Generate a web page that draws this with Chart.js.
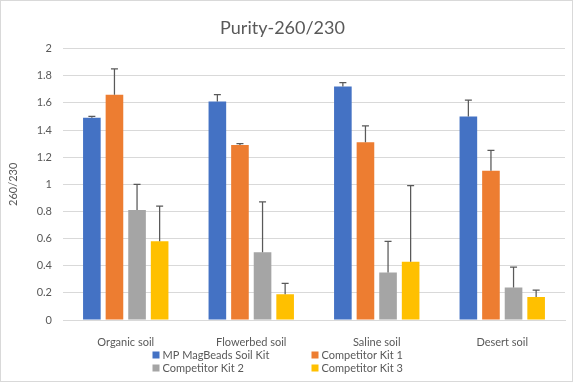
<!DOCTYPE html>
<html>
<head>
<meta charset="utf-8">
<script src="https://cdn.jsdelivr.net/npm/chart.js@4"></script>
<style>
  html, body { margin: 0; padding: 0; background: #fff; }
  #wrap { position: relative; width: 573px; height: 382px; }
</style>
</head>
<body>
<div id="wrap"><canvas id="purity-chart" width="573" height="382"></canvas></div>
<script>
// data
const categories = ['Organic soil', 'Flowerbed soil', 'Saline soil', 'Desert soil'];
const seriesNames = ['MP MagBeads Soil Kit', 'Competitor Kit 1', 'Competitor Kit 2', 'Competitor Kit 3'];
const mpMagBeads = [1.49, 1.61, 1.72, 1.50];
const competitor1 = [1.66, 1.29, 1.31, 1.10];
const competitor2 = [0.81, 0.50, 0.35, 0.24];
const competitor3 = [0.58, 0.19, 0.43, 0.17];
const mpMagBeadsErr = [0.01, 0.05, 0.03, 0.12];
const competitor1Err = [0.19, 0.01, 0.12, 0.15];
const competitor2Err = [0.19, 0.37, 0.23, 0.15];
const competitor3Err = [0.26, 0.08, 0.56, 0.05];
const yTicks = [0, 0.2, 0.4, 0.6, 0.8, 1, 1.2, 1.4, 1.6, 1.8, 2];

const colors = ['#4472C4', '#ED7D31', '#A5A5A5', '#FFC000'];
const values = [mpMagBeads, competitor1, competitor2, competitor3];
const errors = [mpMagBeadsErr, competitor1Err, competitor2Err, competitor3Err];
const textColor = '#595959';
const fontFamily = 'Lato, "Open Sans", sans-serif';

// positive error bars with caps
const errorBars = {
	id: 'errorBars',
	afterDatasetsDraw(chart) {
		const ctx = chart.ctx;
		const y = chart.scales.y;
		ctx.save();
		ctx.strokeStyle = '#595959';
		ctx.lineWidth = 1.25;
		chart.data.datasets.forEach((ds, i) => {
			chart.getDatasetMeta(i).data.forEach((bar, j) => {
				const top = y.getPixelForValue(ds.data[j] + errors[i][j]);
				ctx.beginPath();
				ctx.moveTo(bar.x, bar.y);
				ctx.lineTo(bar.x, top);
				ctx.moveTo(bar.x - 3.5, top);
				ctx.lineTo(bar.x + 3.5, top);
				ctx.stroke();
			});
		});
		ctx.restore();
	}
};

// two-column legend under the axis plus the outer frame
const gridLegend = {
	id: 'gridLegend',
	afterDraw(chart) {
		const ctx = chart.ctx;
		const mid = chart.width / 2;
		const cols = [mid - 134, mid + 25];
		const rows = [355, 368];
		ctx.save();
		ctx.font = '11px ' + fontFamily;
		ctx.textBaseline = 'middle';
		ctx.textAlign = 'left';
		seriesNames.forEach((name, i) => {
			const x = cols[i % 2], yy = rows[Math.floor(i / 2)];
			ctx.fillStyle = colors[i];
			ctx.fillRect(x, yy - 3.5, 7, 7);
			ctx.fillStyle = textColor;
			ctx.fillText(name, x + 10, yy);
		});
		ctx.strokeStyle = '#d9d9d9';
		ctx.lineWidth = 1;
		ctx.strokeRect(0.5, 0.5, chart.width - 1, chart.height - 1);
		ctx.restore();
	}
};

const ctx = document.getElementById('purity-chart');
new Chart(ctx, {
	type: 'bar',
	data: {
		labels: categories,
		datasets: seriesNames.map((name, i) => ({
			label: name,
			data: values[i],
			backgroundColor: colors[i],
			categoryPercentage: 0.72,
			barPercentage: 0.78
		}))
	},
	options: {
		responsive: false,
		animation: false,
		layout: { padding: { left: 0, right: 8, top: 0, bottom: 32 } },
		plugins: {
			legend: { display: false },
			tooltip: { enabled: false },
			title: {
				display: true,
				text: 'Purity-260/230',
				color: textColor,
				font: { family: fontFamily, size: 18, weight: 'normal' },
				padding: { top: 17, bottom: 10 }
			}
		},
		scales: {
			x: {
				grid: { display: false },
				border: { color: '#d9d9d9' },
				ticks: { color: textColor, font: { family: fontFamily, size: 11 }, padding: 8 },
				afterFit: (s) => { s.height = 30; }
			},
			y: {
				min: 0,
				max: 2,
				afterBuildTicks: (s) => { s.ticks = yTicks.map(v => ({ value: v })); },
				grid: { color: '#d9d9d9', drawTicks: false },
				border: { display: false },
				ticks: {
					color: textColor,
					font: { family: fontFamily, size: 11 },
					padding: 11,
					callback: (v) => String(Math.round(v * 10) / 10)
				},
				title: {
					display: true,
					text: '260/230',
					color: textColor,
					font: { family: fontFamily, size: 11 },
					padding: { top: 7, bottom: 0 }
				},
				afterFit: (s) => { s.width = 63; }
			}
		}
	},
	plugins: [errorBars, gridLegend]
});
</script>
</body>
</html>
